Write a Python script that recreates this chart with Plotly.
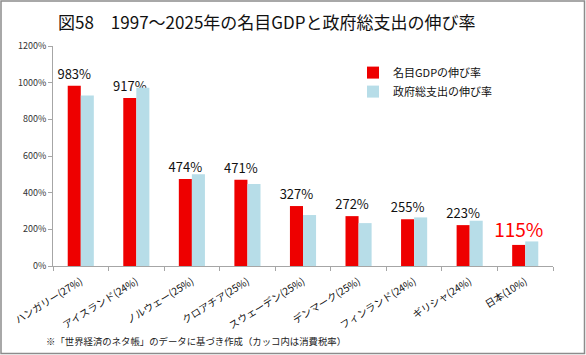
import plotly.graph_objects as go

categories = ["ハンガリー(27%)", "アイスランド(24%)", "ノルウェー(25%)", "クロアチア(25%)",
              "スウェーデン(25%)", "デンマーク(25%)", "フィンランド(24%)", "ギリシャ(24%)", "日本(10%)"]
gdp_growth = [983, 917, 474, 471, 327, 272, 255, 223, 115]
gov_growth = [930, 972, 500, 447, 278, 234, 265, 247, 134]
y_ticks = [0, 200, 400, 600, 800, 1000, 1200]

title_text = "図58　1997～2025年の名目GDPと政府総支出の伸び率"
note_text = "※「世界経済のネタ帳」のデータに基づき作成（カッコ内は消費税率）"
series_names = ["名目GDPの伸び率", "政府総支出の伸び率"]

FONT = "Noto Sans CJK JP"
W, H = 586, 355
ML, MR, MT, MB = 53, 33, 46, 89

label_colors = ["#111111"] * (len(gdp_growth) - 1) + ["#FF0000"]
label_sizes = [13] * (len(gdp_growth) - 1) + [19]

fig = go.Figure()
fig.add_trace(go.Bar(
    x=categories, y=gdp_growth, name=series_names[0],
    marker=dict(color="#EE0000", line=dict(width=0)),
    text=[f"{v}%" for v in gdp_growth], textposition="outside", constraintext="none",
    textfont=dict(color=label_colors, size=label_sizes, family=FONT),
    cliponaxis=False, hoverinfo="skip",
))
fig.add_trace(go.Bar(
    x=categories, y=gov_growth, name=series_names[1],
    marker=dict(color="#B7DDE8", line=dict(width=0)), hoverinfo="skip",
))

pw = W - ML - MR
ph = H - MT - MB
fig.add_shape(type="rect", xref="paper", yref="paper",
              x0=-ML / pw + 1 / pw, x1=1 + (MR - 1.5) / pw,
              y0=-MB / ph + 1.5 / ph, y1=1 + (MT - 1) / ph,
              line=dict(color="#8C8C8C", width=1.5), layer="above")

fig.add_annotation(text=title_text, xref="paper", yref="paper",
                   x=(267 - ML) / pw, y=1 + (MT - 22) / ph, xanchor="center", yanchor="middle",
                   showarrow=False, font=dict(family=FONT, size=17, color="#111111"))
fig.add_annotation(text=note_text, xref="paper", yref="paper",
                   x=(44 - ML) / pw, y=-(341 - MT - ph) / ph, xanchor="left", yanchor="middle",
                   showarrow=False, font=dict(family=FONT, size=9.4, color="#222222"))

fig.update_layout(
    width=W, height=H,
    margin=dict(l=ML, r=MR, t=MT, b=MB, autoexpand=False),
    paper_bgcolor="white", plot_bgcolor="white",
    barmode="group", bargap=0.53, bargroupgap=0,
    font=dict(family=FONT, color="#222222"),
    showlegend=True,
    legend=dict(x=0.60, y=0.945, xanchor="left", yanchor="top",
                font=dict(family=FONT, size=11, color="#111111"),
                bgcolor="rgba(0,0,0,0)", tracegroupgap=4, itemwidth=30),
)
fig.update_yaxes(range=[0, 1200], tickvals=y_ticks, ticktext=[f"{v}%" for v in y_ticks],
                 showgrid=False, zeroline=False, showline=True, linecolor="#A6A6A6", linewidth=1,
                 ticks="outside", ticklen=4, tickcolor="#A6A6A6", automargin=False,
                 tickfont=dict(family=FONT, size=9, color="#333333"))
fig.update_xaxes(type="category", tickson="boundaries", ticks="outside", ticklen=4, tickcolor="#A6A6A6",
                 showline=True, linecolor="#A6A6A6", linewidth=1, showgrid=False, automargin=False,
                 tickangle=-32, ticklabelstandoff=5, tickfont=dict(family=FONT, size=10, color="#111111"))

fig.write_html("out.html", config={"displayModeBar": False, "staticPlot": True},
               post_script="document.body.style.margin='0';document.body.style.overflow='hidden';")
